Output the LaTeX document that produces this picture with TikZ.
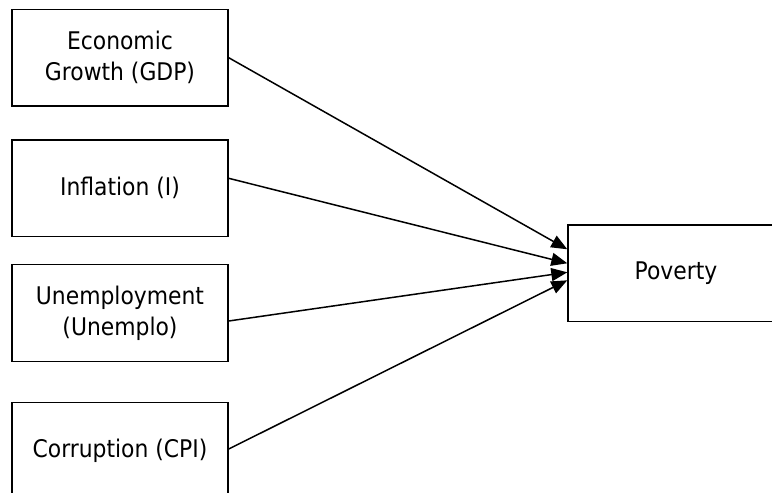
\documentclass[tikz,border=0pt]{standalone}
\usepackage{fontspec}
\setmainfont{DejaVu Sans Condensed}
\usetikzlibrary{arrows.meta}
\begin{document}
\begin{tikzpicture}[x=1pt,y=1pt,
  box/.style={draw, line width=1.4pt, minimum width=216pt, minimum height=96.5pt,
    align=center, inner sep=0pt, text=black, font=\fontsize{24.3}{31}\selectfont},
  arr/.style={line width=1.5pt, -{Triangle[length=16pt,width=13pt]}}]
\useasboundingbox (0,0) rectangle (772,-493);
\clip (0,0) rectangle (772,-493);
\node[box] (gdp) at (120,-57.7) {Economic\\Growth (GDP)};
\node[box] (inf) at (120,-188.3) {Inflation (I)};
\node[box] (une) at (120,-313) {Unemployment\\(Unemplo)};
\node[box] (cpi) at (120,-451) {Corruption (CPI)};
\node[box] (pov) at (676,-273.3) {Poverty};
\draw[arr] ([yshift=0pt]gdp.east) -- ([yshift=24pt]pov.west);
\draw[arr] ([yshift=10pt]inf.east) -- ([yshift=10pt]pov.west);
\draw[arr] ([yshift=-8pt]une.east) -- ([yshift=1pt]pov.west);
\draw[arr] ([yshift=2pt]cpi.east) -- ([yshift=-7pt]pov.west);
\end{tikzpicture}
\end{document}
